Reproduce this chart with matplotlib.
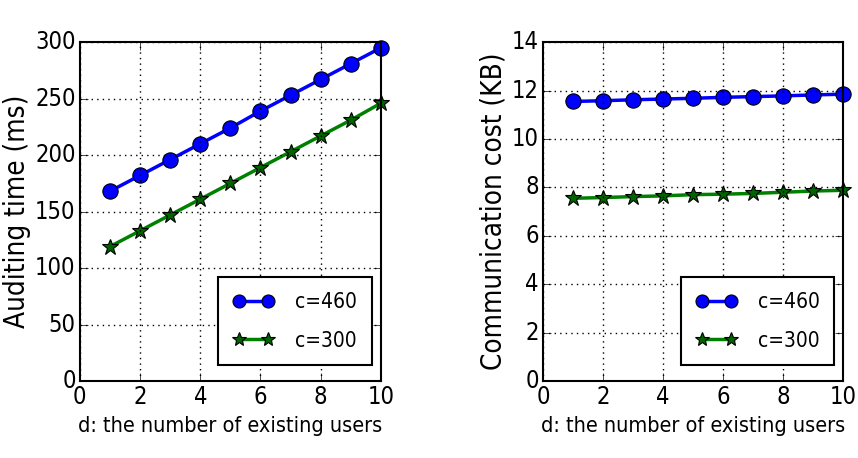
import matplotlib
matplotlib.use("Agg")
import matplotlib.pyplot as plt

users = [1, 2, 3, 4, 5, 6, 7, 8, 9, 10]
audit_460 = [168, 182, 196, 210, 224, 239, 253, 267, 281, 295]
audit_300 = [119, 133, 147, 161, 175, 189, 203, 217, 231, 246]
comm_460 = [11.55, 11.58, 11.62, 11.65, 11.68, 11.72, 11.75, 11.78, 11.82, 11.85]
comm_300 = [7.55, 7.58, 7.62, 7.65, 7.70, 7.72, 7.75, 7.80, 7.85, 7.88]
labels = ["c=460", "c=300"]

plt.style.use("classic")
plt.rcParams["font.family"] = "DejaVu Sans"
plt.rcParams["font.stretch"] = "condensed"

fig = plt.figure(figsize=(8.58, 4.58), dpi=100, facecolor="white")
ax1 = fig.add_axes([0.093, 0.168, 0.351, 0.74])
ax2 = fig.add_axes([0.633, 0.168, 0.350, 0.74])

def draw(ax, y1, y2, ylim, yticks, ylabel):
    ax.plot(users, y1, "b-o", lw=2.5, ms=11, mec="k", mew=0.8, label=labels[0], clip_on=False)
    ax.plot(users, y2, "g-*", lw=2.5, ms=12, mec="k", mfc="darkgreen", mew=0.8, label=labels[1], clip_on=False)
    ax.set_xlim(0, 10)
    ax.set_ylim(*ylim)
    ax.set_xticks([0, 2, 4, 6, 8, 10])
    ax.set_yticks(yticks)
    ax.grid(True, color="k", linestyle=":", linewidth=1)
    ax.tick_params(labelsize=17, direction="in", length=6, pad=3)
    ax.set_xlabel("d: the number of existing users", fontsize=15.5)
    ax.set_ylabel(ylabel, fontsize=20, labelpad=3)
    leg = ax.legend(loc="lower right", bbox_to_anchor=(0.97, 0.047), borderaxespad=0,
                    numpoints=2, fontsize=15, handlelength=2.0, markerscale=0.85,
                    borderpad=0.7, labelspacing=0.9, handletextpad=1.0)
    leg.get_frame().set_linewidth(1.5)
    for s in ax.spines.values():
        s.set_linewidth(1.5)

draw(ax1, audit_460, audit_300, (0, 300), range(0, 301, 50), "Auditing time (ms)")
draw(ax2, comm_460, comm_300, (0, 14), range(0, 15, 2), "Communication cost (KB)")

fig.savefig("out.png", dpi=100, facecolor="white")
